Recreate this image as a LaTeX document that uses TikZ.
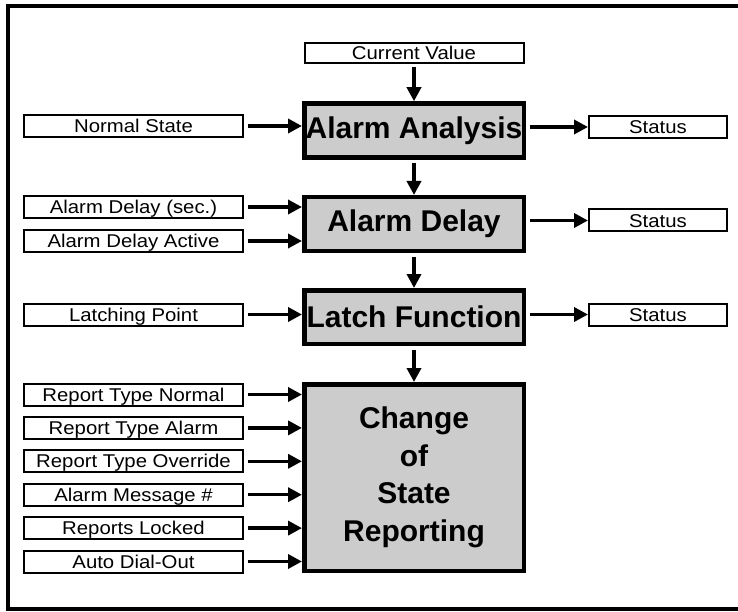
\documentclass[tikz,border=0pt]{standalone}
\usepackage{fontspec}
\setmainfont{Liberation Sans}
\newfontfamily\labfont[FakeStretch=1.1]{Liberation Sans}
\usetikzlibrary{arrows.meta}
\definecolor{boxgray}{HTML}{CCCCCC}
\begin{document}
\begin{tikzpicture}[x=1pt,y=-1pt,
  inbox/.style={draw, line width=2pt, fill=white, minimum width=219pt, minimum height=22pt, inner sep=0pt,
    text height=13.3pt, text depth=0pt,
    font={\labfont\fontsize{18.5pt}{18.5pt}\selectfont}},
  statbox/.style={inbox, minimum width=138pt},
  bigbox/.style={draw, line width=4.5pt, fill=boxgray, minimum width=219.5pt, minimum height=54pt, inner sep=0pt,
    align=center, font={\bfseries\fontsize{30pt}{37.5pt}\selectfont}},
  arr/.style={line width=3.5pt, shorten <=3.5pt, -{Triangle[length=14pt,width=14pt]}}]
\useasboundingbox (0,0) rectangle (738,612);
% outer frame (right side lies outside the picture)
\draw[line width=4pt] (738,6) -- (8,6) -- (8,609) -- (738,609);

% main chain
\node[inbox, minimum height=20pt] (cv) at (414,53) {Current Value};
\node[bigbox] (ana) at (414,130.5) {Alarm Analysis};
\node[bigbox, minimum height=53.5pt] (del) at (414,224) {Alarm Delay};
\node[bigbox, minimum height=53.5pt] (lat) at (414,317) {Latch Function};
\node[bigbox, minimum height=186.5pt] (cos) at (414,477.5) {Change\\of\\State\\Reporting};

% inputs
\node[inbox] (ns) at (133.5,126) {Normal State};
\node[inbox] (ads) at (133.5,207) {Alarm Delay (sec.)};
\node[inbox] (ada) at (133.5,241) {Alarm Delay Active};
\node[inbox] (lp) at (133.5,314.5) {Latching Point};
\node[inbox] (r1) at (133.5,394.5) {Report Type Normal};
\node[inbox] (r2) at (133.5,427.9) {Report Type Alarm};
\node[inbox] (r3) at (133.5,461.3) {Report Type Override};
\node[inbox] (r4) at (133.5,494.7) {Alarm Message \#};
\node[inbox] (r5) at (133.5,528.1) {Reports Locked};
\node[inbox] (r6) at (133.5,561.5) {Auto Dial-Out};

% outputs
\node[statbox] (s1) at (658,127) {Status};
\node[statbox] (s2) at (658,220.5) {Status};
\node[statbox] (s3) at (658,314.5) {Status};

% vertical flow
\draw[arr] (cv.south) -- (ana.north);
\draw[arr] (ana.south) -- (del.north);
\draw[arr] (del.south) -- (lat.north);
\draw[arr] (lat.south) -- (cos.north);

% input arrows
\draw[arr] (ns.east) -- (ns.east -| ana.west);
\draw[arr] (ads.east) -- (ads.east -| del.west);
\draw[arr] (ada.east) -- (ada.east -| del.west);
\draw[arr] (lp.east) -- (lp.east -| lat.west);
\foreach \r in {r1,r2,r3,r4,r5,r6}
  \draw[arr] (\r.east) -- (\r.east -| cos.west);

% output arrows
\draw[arr] (s1.west -| ana.east) -- (s1.west);
\draw[arr] (s2.west -| del.east) -- (s2.west);
\draw[arr] (s3.west -| lat.east) -- (s3.west);
\end{tikzpicture}
\end{document}
